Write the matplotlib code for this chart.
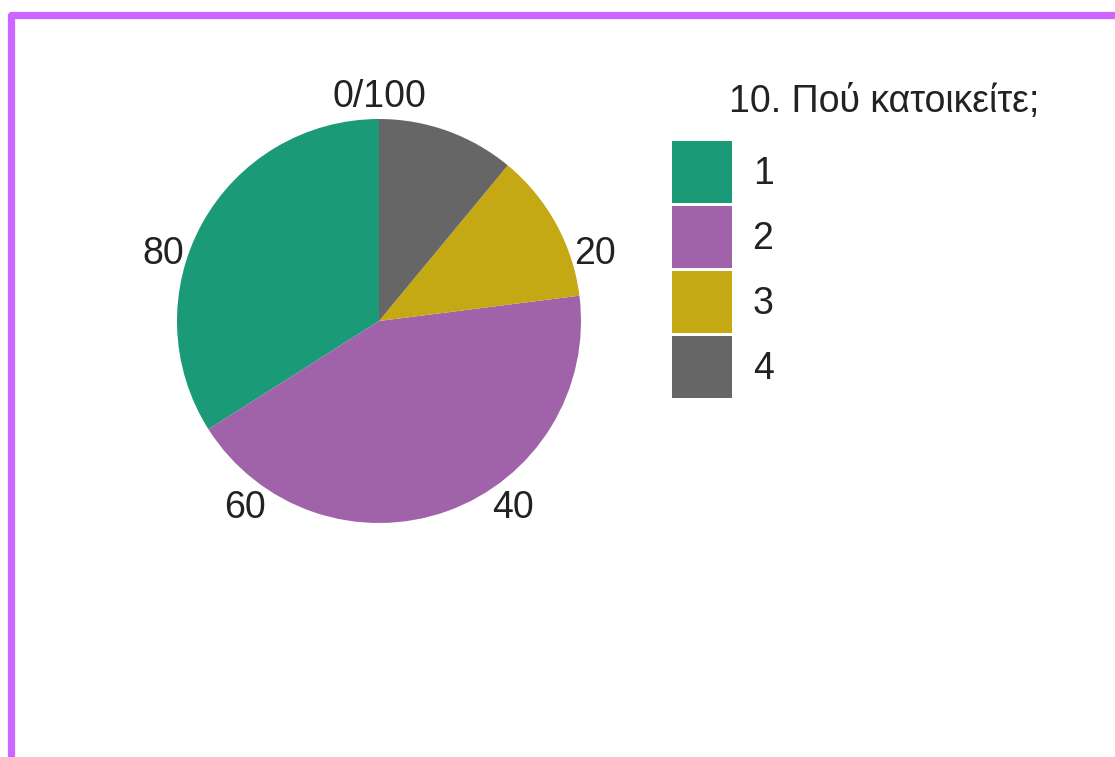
import numpy as np
import matplotlib.pyplot as plt
from matplotlib.patches import Rectangle

# answers to "10. Πού κατοικείτε;" (percent of responses)
labels = ['1', '2', '3', '4']
shares = [34, 43, 12, 11]
colors = ['#1b9a78', '#a062a8', '#c4a814', '#666666']
scale_ticks = [0, 20, 40, 60, 80]
tick_text = ['0/100', '20', '40', '60', '80']

plt.rcParams['font.family'] = ['Liberation Sans', 'DejaVu Sans']

W, H = 1115, 757
fs = 27
fig = plt.figure(figsize=(W / 100, H / 100), dpi=100)

# pie axes, centre ~ (379, 321) px, radius ~202 px
cx, cy, r = 379, 321, 202
ax = fig.add_axes([(cx - r) / W, 1 - (cy + r) / H, 2 * r / W, 2 * r / H])
wedges, _ = ax.pie(shares, colors=colors, startangle=90, counterclock=True,
                   radius=1, wedgeprops=dict(linewidth=0))
ax.set_xlim(-1, 1)
ax.set_ylim(-1, 1)
ax.set_aspect('equal')
ax.axis('off')

# the 0..100 scale round the pie, running clockwise from the top
for t, s in zip(scale_ticks, tick_text):
    a = t / 100 * 2 * np.pi
    ax.text(1.125 * np.sin(a), 1.125 * np.cos(a) - 0.015, s, ha='center',
            va='center', fontsize=fs, color='#222222', clip_on=False)

fig.text(729 / W, 1 - 102 / H, '10. Πού κατοικείτε;', fontsize=fs,
         ha='left', va='center', color='#222222')

fig.legend(wedges, labels, loc='upper left',
           bbox_to_anchor=(672 / W, 1 - 141 / H), frameon=False,
           fontsize=fs, handlelength=1.6, handleheight=2.17,
           labelspacing=0.08, handletextpad=0.55, borderpad=0,
           borderaxespad=0, labelcolor='#222222')

# purple frame, open at the right and bottom edges
fig.patches.append(Rectangle((10.5 / W, -0.1), 1.2, 1 - 14.5 / H + 0.1,
                             transform=fig.transFigure, fill=False,
                             edgecolor='#cc66ff', linewidth=5.2,
                             joinstyle='round', figure=fig))

fig.savefig('out.png', dpi=100)
